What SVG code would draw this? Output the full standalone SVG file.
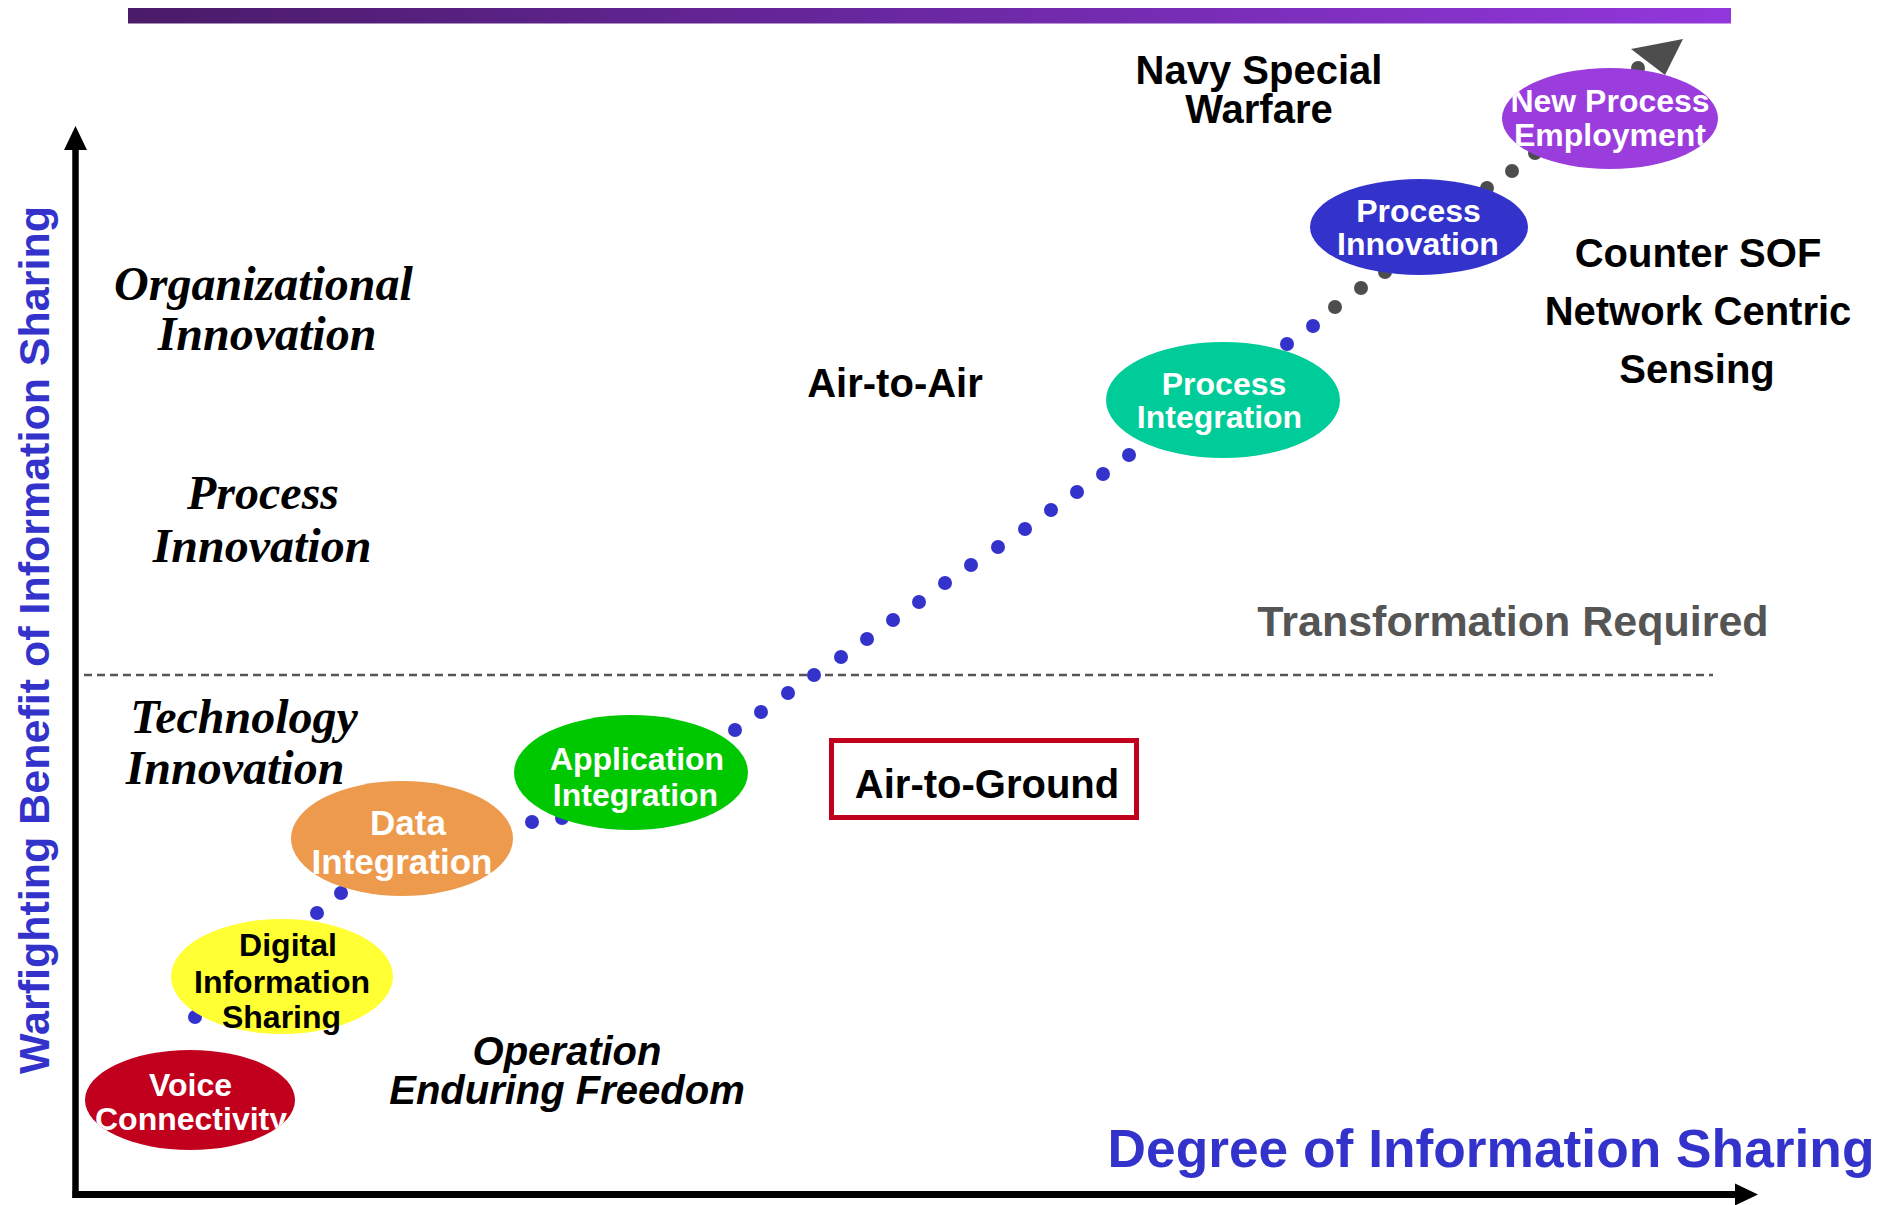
<svg xmlns="http://www.w3.org/2000/svg" width="1879" height="1205" viewBox="0 0 1879 1205">
<defs>
<linearGradient id="bar" x1="0" y1="0" x2="1" y2="0">
<stop offset="0" stop-color="#4a1b68"/>
<stop offset="0.5" stop-color="#6b28a3"/>
<stop offset="1" stop-color="#9237dc"/>
</linearGradient>
<clipPath id="c1"><ellipse cx="190" cy="1100" rx="105" ry="50"/></clipPath>
<clipPath id="c7"><ellipse cx="1610" cy="118.5" rx="108" ry="50.5"/></clipPath>
</defs>
<style>
.s{font-family:"Liberation Sans",Arial,sans-serif;font-weight:bold;text-anchor:middle}
.w{fill:#ffffff;font-size:32px}
.k{fill:#000000;font-size:32px}
.t{fill:#000000;font-size:40px}
.r{font-family:"Liberation Serif","Times New Roman",serif;font-weight:bold;font-style:italic;font-size:48px;text-anchor:middle;fill:#000}
.bd{fill:#3333cc}
.gd{fill:#4d4d4d}
</style>
<rect x="128" y="8" width="1603" height="15.5" fill="url(#bar)"/>

<g id="axes">
<line x1="75.5" y1="146" x2="75.5" y2="1198" stroke="#000" stroke-width="6.5"/>
<polygon points="75.5,126 64,150 87,150" fill="#000"/>
<line x1="72.5" y1="1194.5" x2="1737" y2="1194.5" stroke="#000" stroke-width="7"/>
<polygon points="1758,1194.5 1735,1183.5 1735,1205.5" fill="#000"/>
<line x1="84" y1="675" x2="1713" y2="675" stroke="#555555" stroke-width="2.5" stroke-dasharray="8 5"/>
</g>

<g id="connectors">
<circle class="bd" cx="195" cy="1017" r="7"/>
<circle class="bd" cx="317" cy="913" r="7"/>
<circle class="bd" cx="341" cy="893" r="7"/>
<circle class="bd" cx="532" cy="822" r="7"/>
<circle class="bd" cx="562" cy="818" r="7"/>
<circle class="bd" cx="735" cy="730" r="7"/>
<circle class="bd" cx="761" cy="712" r="7"/>
<circle class="bd" cx="788" cy="693" r="7"/>
<circle class="bd" cx="814" cy="675" r="7"/>
<circle class="bd" cx="841" cy="657" r="7"/>
<circle class="bd" cx="867" cy="639" r="7"/>
<circle class="bd" cx="893" cy="620" r="7"/>
<circle class="bd" cx="919" cy="602" r="7"/>
<circle class="bd" cx="945" cy="583" r="7"/>
<circle class="bd" cx="971" cy="565" r="7"/>
<circle class="bd" cx="998" cy="547" r="7"/>
<circle class="bd" cx="1025" cy="529" r="7"/>
<circle class="bd" cx="1051" cy="510" r="7"/>
<circle class="bd" cx="1077" cy="492" r="7"/>
<circle class="bd" cx="1103" cy="474" r="7"/>
<circle class="bd" cx="1129" cy="455" r="7"/>
<circle class="bd" cx="1287" cy="344" r="7"/>
<circle class="bd" cx="1313" cy="326" r="7"/>
<circle class="gd" cx="1335" cy="307" r="7"/>
<circle class="gd" cx="1361" cy="288" r="7"/>
<circle class="gd" cx="1385" cy="272" r="7"/>
<circle class="gd" cx="1487" cy="188" r="7"/>
<circle class="gd" cx="1512" cy="171" r="7"/>
<circle class="gd" cx="1535" cy="153" r="7"/>
<circle class="gd" cx="1638" cy="68" r="7"/>
<polygon points="1631,49 1683,39 1665,75" fill="#4d4d4d"/>
</g>

<g id="n1">
<ellipse cx="190" cy="1100" rx="105" ry="50" fill="#c0001c"/>
<g clip-path="url(#c1)">
<text class="s w" x="190.5" y="1095.5">Voice</text>
<text class="s w" x="191" y="1130">Connectivity</text>
</g>
</g>
<g id="n2">
<ellipse cx="282" cy="976.5" rx="111" ry="57.5" fill="#ffff33"/>
<text class="s k" x="288" y="956">Digital</text>
<text class="s k" x="282" y="993">Information</text>
<text class="s k" x="281.5" y="1028">Sharing</text>
</g>
<g id="n3">
<ellipse cx="402" cy="838.5" rx="111" ry="57.5" fill="#ee9a4d"/>
<text class="s w" x="408" y="834.5" style="font-size:35px">Data</text>
<text class="s w" x="402" y="873.5" style="font-size:35px">Integration</text>
</g>
<g id="n4">
<ellipse cx="631" cy="772.5" rx="117" ry="57.5" fill="#00c800"/>
<text class="s w" x="637" y="769.5">Application</text>
<text class="s w" x="635.5" y="806">Integration</text>
</g>
<g id="n5">
<ellipse cx="1223" cy="400" rx="117" ry="58" fill="#00cc99"/>
<text class="s w" x="1224" y="394.5">Process</text>
<text class="s w" x="1219.5" y="428">Integration</text>
</g>
<g id="n6">
<ellipse cx="1419" cy="227" rx="109" ry="48" fill="#3333cc"/>
<text class="s w" x="1418.5" y="221.5">Process</text>
<text class="s w" x="1418" y="255">Innovation</text>
</g>
<g id="n7">
<ellipse cx="1610" cy="118.5" rx="108" ry="50.5" fill="#9b3ddd"/>
<g clip-path="url(#c7)">
<text class="s w" x="1610" y="112">New Process</text>
<text class="s w" x="1610" y="146">Employment</text>
</g>
</g>
<g id="n8">
<rect x="831.5" y="740.5" width="305" height="77" fill="#ffffff" stroke="#c0001c" stroke-width="5"/>
<text class="s t" x="987" y="797.5">Air-to-Ground</text>
</g>

<g id="labels">
<text class="r" x="263.5" y="299.5">Organizational</text>
<text class="r" x="267" y="350">Innovation</text>
<text class="r" x="263" y="509">Process</text>
<text class="r" x="262" y="562">Innovation</text>
<text class="r" x="244" y="732.5">Technology</text>
<text class="r" x="235" y="784">Innovation</text>
<text class="s t" x="895" y="397">Air-to-Air</text>
<text class="s t" x="1259" y="84">Navy Special</text>
<text class="s t" x="1259" y="122.5">Warfare</text>
<text class="s t" x="1698" y="267">Counter SOF</text>
<text class="s t" x="1698" y="325">Network Centric</text>
<text class="s t" x="1697" y="382.5">Sensing</text>
<text class="s" x="1513" y="636" style="font-size:43px;fill:#555555">Transformation Required</text>
<text class="s t" x="567" y="1065" style="font-style:italic">Operation</text>
<text class="s t" x="567" y="1103.5" style="font-style:italic">Enduring Freedom</text>
<text class="s" x="1491" y="1167" style="font-size:53.3px;fill:#3333cc">Degree of Information Sharing</text>
<text class="s" transform="translate(48.5,640) rotate(-90)" style="font-size:43px;fill:#3333cc">Warfighting Benefit of Information Sharing</text>
</g>
</svg>
